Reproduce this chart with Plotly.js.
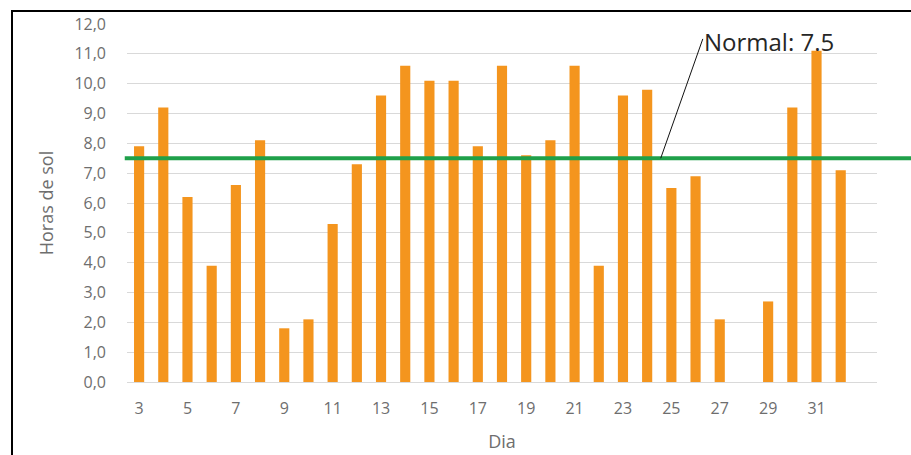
<!DOCTYPE html>
<html>
<head>
<meta charset="utf-8">
<script src="https://cdn.plot.ly/plotly-3.0.1.min.js"></script>
<style>
  html, body { margin: 0; padding: 0; width: 911px; height: 455px; overflow: hidden; background: #fff; }
  #chart { position: absolute; left: 0; top: 0; width: 911px; height: 455px; }
  #frame { position: absolute; left: 11px; top: 10px; width: 1200px; height: 800px;
           border-left: 2px solid #000; border-top: 2px solid #000; pointer-events: none; }
</style>
</head>
<body>
<div id="chart"></div>
<div id="frame"></div>
<script>
// Data
const days = [3,4,5,6,7,8,9,10,11,12,13,14,15,16,17,18,19,20,21,22,23,24,25,26,27,28,29,30,31,32];
const hours = [7.9,9.2,6.2,3.9,6.6,8.1,1.8,2.1,5.3,7.3,9.6,10.6,10.1,10.1,7.9,10.6,7.6,8.1,10.6,3.9,9.6,9.8,6.5,6.9,2.1,0,2.7,9.2,11.1,7.1];
const tickDays = [3,5,7,9,11,13,15,17,19,21,23,25,27,29,31];
const normal = 7.5;
const normalLabel = 'Normal: 7.5';
const yTitle = 'Horas de sol';
const xTitle = 'Dia';

const fontFam = '"Open Sans", "DejaVu Sans", sans-serif';
const grey = '#6e6e6e';

const trace = {
  type: 'bar',
  x: days,
  y: hours,
  marker: { color: '#F4951E' },
  hoverinfo: 'x+y'
};

const layout = {
  width: 911, height: 455,
  margin: { l: 127, r: 34, t: 24, b: 73 },
  paper_bgcolor: '#fff', plot_bgcolor: '#fff',
  separators: ', ',
  bargap: 0.58,
  showlegend: false,
  xaxis: {
    range: [2.5, 33.5],
    tickmode: 'array', tickvals: tickDays, ticktext: tickDays.map(String),
    showgrid: false, zeroline: false,
    showline: true, linecolor: '#d9d9d9', linewidth: 1,
    ticks: '', ticklabelstandoff: 12,
    tickfont: { family: fontFam, size: 16, color: grey },
    title: { text: xTitle, font: { family: fontFam, size: 18, color: grey }, standoff: 17 }
  },
  yaxis: {
    range: [0, 12], dtick: 1, tick0: 0,
    tickformat: '.1f',
    showgrid: true, gridcolor: '#d9d9d9', gridwidth: 1,
    zeroline: false, showline: false, ticks: '',
    ticklabelstandoff: 20,
    tickfont: { family: fontFam, size: 16, color: grey },
    title: { text: yTitle, font: { family: fontFam, size: 18, color: grey }, standoff: 16 }
  },
  shapes: [
    { type: 'line', xref: 'paper', yref: 'y', x0: -0.003, x1: 1.1, y0: normal, y1: normal,
      line: { color: '#1FA04A', width: 4 }, layer: 'above' },
    { type: 'line', xref: 'x', yref: 'y', x0: 24.56, y0: normal, x1: 26.3, y1: 11.5,
      line: { color: '#111', width: 1 } }
  ],
  annotations: [
    { xref: 'x', yref: 'y', x: 26.25, y: 11.42, xanchor: 'left', yanchor: 'middle',
      text: normalLabel, showarrow: false,
      font: { family: fontFam, size: 24, color: '#262626' } }
  ]
};

Plotly.newPlot('chart', [trace], layout, { displayModeBar: false, staticPlot: true });
</script>
</body>
</html>
